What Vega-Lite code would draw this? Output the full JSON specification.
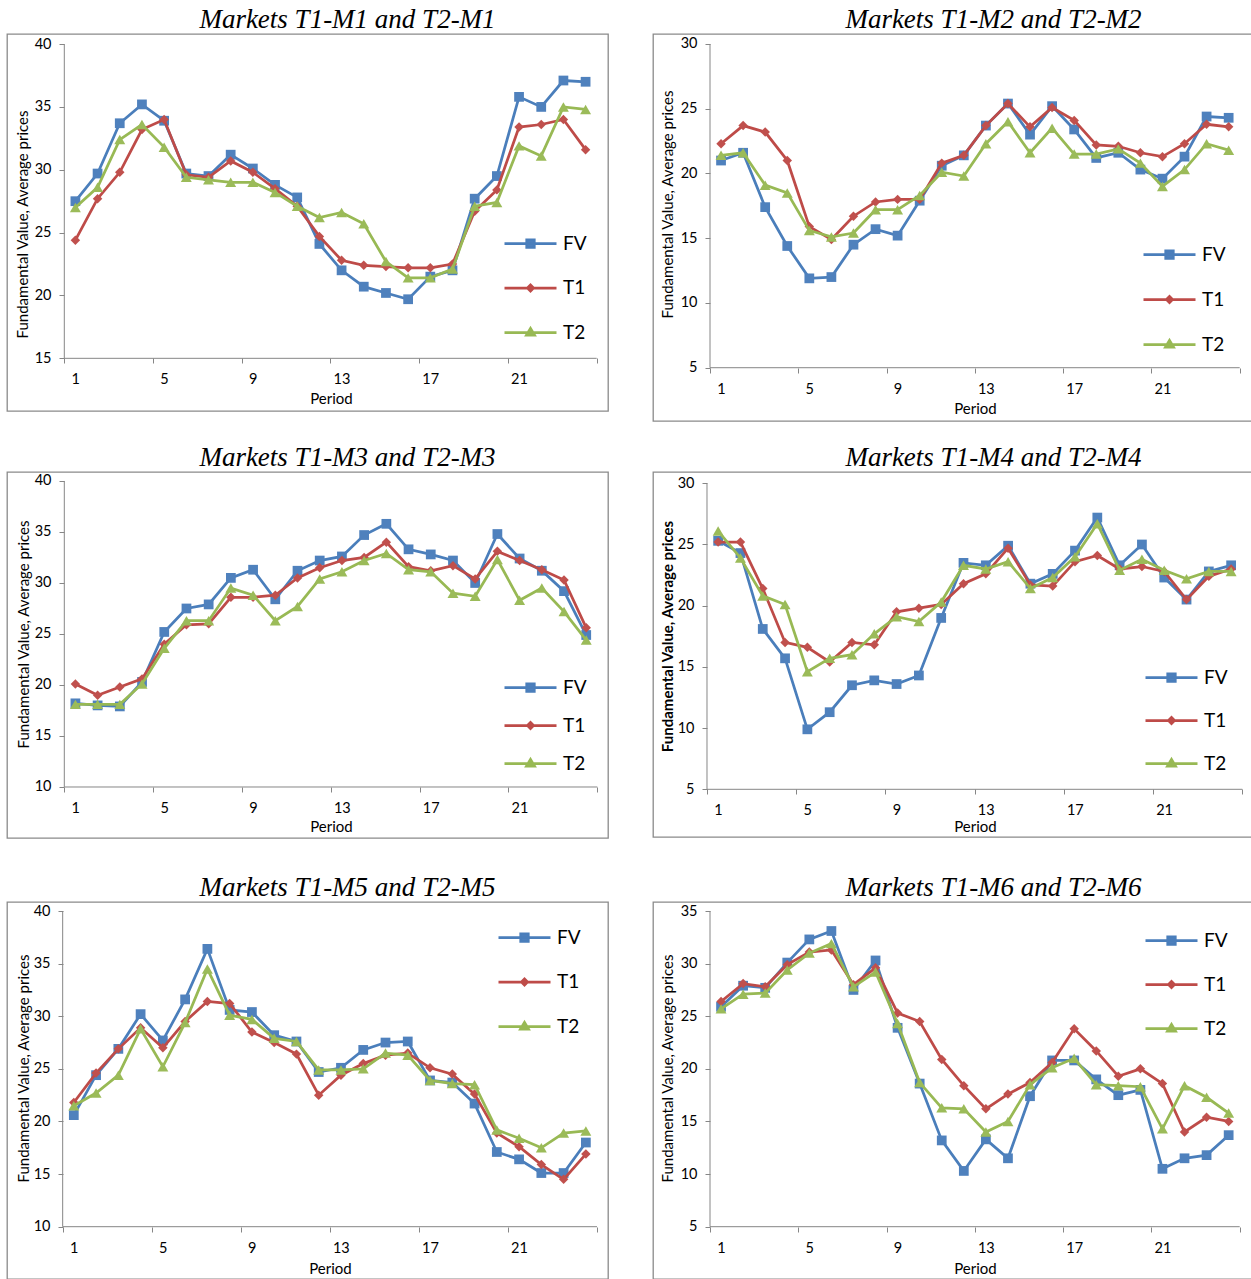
{
"$schema": "https://vega.github.io/schema/vega-lite/v6.json",
"background": "white",
"padding": {"left": 6, "top": 5, "right": 0, "bottom": 0},
"datasets": {"d": [
{"m":"M1","p":1,"FV":27.5,"T1":24.4,"T2":27.0},{"m":"M1","p":2,"FV":29.7,"T1":27.7,"T2":28.6},{"m":"M1","p":3,"FV":33.7,"T1":29.8,"T2":32.4},{"m":"M1","p":4,"FV":35.2,"T1":33.2,"T2":33.6},{"m":"M1","p":5,"FV":33.9,"T1":34.0,"T2":31.8},{"m":"M1","p":6,"FV":29.7,"T1":29.6,"T2":29.4},{"m":"M1","p":7,"FV":29.5,"T1":29.4,"T2":29.2},{"m":"M1","p":8,"FV":31.2,"T1":30.7,"T2":29.0},{"m":"M1","p":9,"FV":30.1,"T1":29.8,"T2":29.0},{"m":"M1","p":10,"FV":28.8,"T1":28.5,"T2":28.2},{"m":"M1","p":11,"FV":27.8,"T1":27.1,"T2":27.1},{"m":"M1","p":12,"FV":24.1,"T1":24.7,"T2":26.2},{"m":"M1","p":13,"FV":22.0,"T1":22.8,"T2":26.6},{"m":"M1","p":14,"FV":20.7,"T1":22.4,"T2":25.7},{"m":"M1","p":15,"FV":20.2,"T1":22.3,"T2":22.7},{"m":"M1","p":16,"FV":19.7,"T1":22.2,"T2":21.4},{"m":"M1","p":17,"FV":21.5,"T1":22.2,"T2":21.4},{"m":"M1","p":18,"FV":22.0,"T1":22.5,"T2":22.1},{"m":"M1","p":19,"FV":27.7,"T1":26.7,"T2":27.1},{"m":"M1","p":20,"FV":29.5,"T1":28.4,"T2":27.4},{"m":"M1","p":21,"FV":35.8,"T1":33.4,"T2":31.9},{"m":"M1","p":22,"FV":35.0,"T1":33.6,"T2":31.1},{"m":"M1","p":23,"FV":37.1,"T1":34.0,"T2":35.0},{"m":"M1","p":24,"FV":37.0,"T1":31.6,"T2":34.8},
{"m":"M2","p":1,"FV":21.0,"T1":22.3,"T2":21.4},{"m":"M2","p":2,"FV":21.6,"T1":23.7,"T2":21.6},{"m":"M2","p":3,"FV":17.4,"T1":23.2,"T2":19.1},{"m":"M2","p":4,"FV":14.4,"T1":21.0,"T2":18.5},{"m":"M2","p":5,"FV":11.9,"T1":15.9,"T2":15.6},{"m":"M2","p":6,"FV":12.0,"T1":14.9,"T2":15.1},{"m":"M2","p":7,"FV":14.5,"T1":16.7,"T2":15.4},{"m":"M2","p":8,"FV":15.7,"T1":17.8,"T2":17.2},{"m":"M2","p":9,"FV":15.2,"T1":18.0,"T2":17.2},{"m":"M2","p":10,"FV":17.9,"T1":18.0,"T2":18.3},{"m":"M2","p":11,"FV":20.6,"T1":20.8,"T2":20.1},{"m":"M2","p":12,"FV":21.4,"T1":21.4,"T2":19.8},{"m":"M2","p":13,"FV":23.7,"T1":23.7,"T2":22.3},{"m":"M2","p":14,"FV":25.4,"T1":25.4,"T2":24.0},{"m":"M2","p":15,"FV":23.0,"T1":23.6,"T2":21.6},{"m":"M2","p":16,"FV":25.2,"T1":25.1,"T2":23.5},{"m":"M2","p":17,"FV":23.4,"T1":24.1,"T2":21.5},{"m":"M2","p":18,"FV":21.2,"T1":22.2,"T2":21.5},{"m":"M2","p":19,"FV":21.6,"T1":22.1,"T2":21.9},{"m":"M2","p":20,"FV":20.3,"T1":21.6,"T2":20.8},{"m":"M2","p":21,"FV":19.6,"T1":21.3,"T2":19.0},{"m":"M2","p":22,"FV":21.3,"T1":22.3,"T2":20.3},{"m":"M2","p":23,"FV":24.4,"T1":23.8,"T2":22.3},{"m":"M2","p":24,"FV":24.3,"T1":23.6,"T2":21.8},
{"m":"M3","p":1,"FV":18.2,"T1":20.1,"T2":18.1},{"m":"M3","p":2,"FV":18.0,"T1":19.0,"T2":18.1},{"m":"M3","p":3,"FV":17.9,"T1":19.8,"T2":18.1},{"m":"M3","p":4,"FV":20.3,"T1":20.6,"T2":20.1},{"m":"M3","p":5,"FV":25.2,"T1":24.0,"T2":23.6},{"m":"M3","p":6,"FV":27.5,"T1":25.9,"T2":26.3},{"m":"M3","p":7,"FV":27.9,"T1":26.0,"T2":26.3},{"m":"M3","p":8,"FV":30.5,"T1":28.6,"T2":29.5},{"m":"M3","p":9,"FV":31.3,"T1":28.6,"T2":28.8},{"m":"M3","p":10,"FV":28.4,"T1":28.8,"T2":26.3},{"m":"M3","p":11,"FV":31.2,"T1":30.5,"T2":27.7},{"m":"M3","p":12,"FV":32.2,"T1":31.5,"T2":30.4},{"m":"M3","p":13,"FV":32.6,"T1":32.2,"T2":31.1},{"m":"M3","p":14,"FV":34.7,"T1":32.5,"T2":32.2},{"m":"M3","p":15,"FV":35.8,"T1":34.0,"T2":32.9},{"m":"M3","p":16,"FV":33.3,"T1":31.6,"T2":31.3},{"m":"M3","p":17,"FV":32.8,"T1":31.2,"T2":31.1},{"m":"M3","p":18,"FV":32.2,"T1":31.7,"T2":29.0},{"m":"M3","p":19,"FV":30.0,"T1":30.4,"T2":28.7},{"m":"M3","p":20,"FV":34.8,"T1":33.1,"T2":32.3},{"m":"M3","p":21,"FV":32.4,"T1":32.2,"T2":28.3},{"m":"M3","p":22,"FV":31.2,"T1":31.3,"T2":29.5},{"m":"M3","p":23,"FV":29.2,"T1":30.3,"T2":27.2},{"m":"M3","p":24,"FV":24.9,"T1":25.6,"T2":24.4},
{"m":"M4","p":1,"FV":25.3,"T1":25.2,"T2":26.1},{"m":"M4","p":2,"FV":24.3,"T1":25.2,"T2":23.9},{"m":"M4","p":3,"FV":18.1,"T1":21.4,"T2":20.8},{"m":"M4","p":4,"FV":15.7,"T1":17.0,"T2":20.1},{"m":"M4","p":5,"FV":9.9,"T1":16.6,"T2":14.6},{"m":"M4","p":6,"FV":11.3,"T1":15.4,"T2":15.7},{"m":"M4","p":7,"FV":13.5,"T1":17.0,"T2":16.0},{"m":"M4","p":8,"FV":13.9,"T1":16.8,"T2":17.7},{"m":"M4","p":9,"FV":13.6,"T1":19.5,"T2":19.1},{"m":"M4","p":10,"FV":14.3,"T1":19.8,"T2":18.7},{"m":"M4","p":11,"FV":19.0,"T1":20.1,"T2":20.3},{"m":"M4","p":12,"FV":23.5,"T1":21.8,"T2":23.3},{"m":"M4","p":13,"FV":23.3,"T1":22.6,"T2":23.0},{"m":"M4","p":14,"FV":24.9,"T1":24.7,"T2":23.6},{"m":"M4","p":15,"FV":21.8,"T1":21.7,"T2":21.4},{"m":"M4","p":16,"FV":22.6,"T1":21.6,"T2":22.3},{"m":"M4","p":17,"FV":24.5,"T1":23.6,"T2":24.0},{"m":"M4","p":18,"FV":27.2,"T1":24.1,"T2":26.7},{"m":"M4","p":19,"FV":23.3,"T1":23.0,"T2":22.9},{"m":"M4","p":20,"FV":25.0,"T1":23.2,"T2":23.8},{"m":"M4","p":21,"FV":22.3,"T1":22.8,"T2":22.9},{"m":"M4","p":22,"FV":20.5,"T1":20.5,"T2":22.2},{"m":"M4","p":23,"FV":22.8,"T1":22.4,"T2":22.8},{"m":"M4","p":24,"FV":23.3,"T1":23.0,"T2":22.8},
{"m":"M5","p":1,"FV":20.6,"T1":21.8,"T2":21.5},{"m":"M5","p":2,"FV":24.4,"T1":24.6,"T2":22.7},{"m":"M5","p":3,"FV":26.9,"T1":26.9,"T2":24.4},{"m":"M5","p":4,"FV":30.2,"T1":28.9,"T2":28.8},{"m":"M5","p":5,"FV":27.7,"T1":27.0,"T2":25.2},{"m":"M5","p":6,"FV":31.6,"T1":29.5,"T2":29.4},{"m":"M5","p":7,"FV":36.4,"T1":31.4,"T2":34.5},{"m":"M5","p":8,"FV":30.6,"T1":31.2,"T2":30.1},{"m":"M5","p":9,"FV":30.4,"T1":28.5,"T2":29.7},{"m":"M5","p":10,"FV":28.2,"T1":27.5,"T2":27.9},{"m":"M5","p":11,"FV":27.6,"T1":26.4,"T2":27.6},{"m":"M5","p":12,"FV":24.7,"T1":22.5,"T2":24.9},{"m":"M5","p":13,"FV":25.1,"T1":24.4,"T2":24.9},{"m":"M5","p":14,"FV":26.8,"T1":25.5,"T2":25.0},{"m":"M5","p":15,"FV":27.5,"T1":26.3,"T2":26.5},{"m":"M5","p":16,"FV":27.6,"T1":26.5,"T2":26.3},{"m":"M5","p":17,"FV":23.9,"T1":25.1,"T2":23.9},{"m":"M5","p":18,"FV":23.7,"T1":24.5,"T2":23.6},{"m":"M5","p":19,"FV":21.7,"T1":22.6,"T2":23.5},{"m":"M5","p":20,"FV":17.1,"T1":18.9,"T2":19.2},{"m":"M5","p":21,"FV":16.4,"T1":17.6,"T2":18.4},{"m":"M5","p":22,"FV":15.1,"T1":15.9,"T2":17.5},{"m":"M5","p":23,"FV":15.1,"T1":14.5,"T2":18.9},{"m":"M5","p":24,"FV":18.0,"T1":16.9,"T2":19.1},
{"m":"M6","p":1,"FV":25.9,"T1":26.4,"T2":25.7},{"m":"M6","p":2,"FV":27.9,"T1":28.1,"T2":27.1},{"m":"M6","p":3,"FV":27.7,"T1":27.8,"T2":27.2},{"m":"M6","p":4,"FV":30.1,"T1":29.9,"T2":29.4},{"m":"M6","p":5,"FV":32.3,"T1":31.1,"T2":31.0},{"m":"M6","p":6,"FV":33.1,"T1":31.3,"T2":31.9},{"m":"M6","p":7,"FV":27.5,"T1":28.0,"T2":27.8},{"m":"M6","p":8,"FV":30.3,"T1":29.6,"T2":29.2},{"m":"M6","p":9,"FV":23.9,"T1":25.3,"T2":24.3},{"m":"M6","p":10,"FV":18.6,"T1":24.5,"T2":18.7},{"m":"M6","p":11,"FV":13.2,"T1":20.9,"T2":16.3},{"m":"M6","p":12,"FV":10.3,"T1":18.4,"T2":16.2},{"m":"M6","p":13,"FV":13.3,"T1":16.2,"T2":14.0},{"m":"M6","p":14,"FV":11.5,"T1":17.6,"T2":15.0},{"m":"M6","p":15,"FV":17.4,"T1":18.7,"T2":18.5},{"m":"M6","p":16,"FV":20.8,"T1":20.6,"T2":20.1},{"m":"M6","p":17,"FV":20.8,"T1":23.8,"T2":21.0},{"m":"M6","p":18,"FV":19.0,"T1":21.7,"T2":18.5},{"m":"M6","p":19,"FV":17.5,"T1":19.3,"T2":18.4},{"m":"M6","p":20,"FV":18.0,"T1":20.0,"T2":18.3},{"m":"M6","p":21,"FV":10.5,"T1":18.6,"T2":14.3},{"m":"M6","p":22,"FV":11.5,"T1":14.0,"T2":18.4},{"m":"M6","p":23,"FV":11.8,"T1":15.4,"T2":17.3},{"m":"M6","p":24,"FV":13.7,"T1":15.0,"T2":15.8}
]},
"spacing": 34,
"resolve": {"scale": {"color": "independent", "fill": "independent", "stroke": "independent", "shape": "independent"}, "legend": {"color": "independent", "fill": "independent", "stroke": "independent", "shape": "independent"}},
"vconcat": [
{"spacing": 21,
 "resolve": {"scale": {"color": "independent", "fill": "independent", "stroke": "independent", "shape": "independent"}, "legend": {"color": "independent", "fill": "independent", "stroke": "independent", "shape": "independent"}},
 "vconcat": [
 {"spacing": 43,
  "resolve": {"scale": {"color": "independent", "fill": "independent", "stroke": "independent", "shape": "independent"}, "legend": {"color": "independent", "fill": "independent", "stroke": "independent", "shape": "independent"}},
  "hconcat": [
  {"width": 601, "height": 377, "title": {"text": "Markets T1-M1 and T2-M1", "offset": 0.1},
   "layer": [
    {"data": {"values": [{"k": 1}]}, "mark": {"type": "rule", "color": "#868686", "strokeWidth": 1}, "encoding": {"x": {"datum": 0.5, "type": "quantitative", "scale": {"domain": [-2.083, 25.01], "nice": false, "zero": false}}, "y": {"datum": 15, "type": "quantitative", "scale": {"domain": [10.81, 40.8], "nice": false, "zero": false}}, "y2": {"datum": 40}}},
    {"data": {"values": [{"k": 1}]}, "mark": {"type": "rule", "color": "#868686", "strokeWidth": 1}, "encoding": {"x": {"datum": 0.5, "type": "quantitative", "scale": {"domain": [-2.083, 25.01], "nice": false, "zero": false}}, "x2": {"datum": 24.5}, "y": {"datum": 15, "type": "quantitative", "scale": {"domain": [10.81, 40.8], "nice": false, "zero": false}}}},
    {"data": {"name": "d"},
     "transform": [{"filter": "datum.m == 'M1'"}, {"fold": ["FV", "T1", "T2"], "as": ["s", "v"]}],
     "encoding": {
      "x": {"field": "p", "type": "quantitative", "scale": {"domain": [-2.083, 25.01], "nice": false, "zero": false},
            "axis": {"values": [0.5, 4.5, 8.5, 12.5, 16.5, 20.5, 24.5], "labelExpr": "datum.value > 24 ? '' : format(datum.value + 0.5, 'd')", "labelOffset": 11, "offset": -53, "labelPadding": 9, "title": "Period", "titleX": 324, "titleY": 40, "titleBaseline": "middle", "titleAlign": "center"}},
      "y": {"field": "v", "type": "quantitative", "scale": {"domain": [10.81, 40.8], "nice": false, "zero": false},
            "axis": {"values": [15, 20, 25, 30, 35, 40], "offset": -57, "labelPadding": 8, "title": "Fundamental Value, Average prices", "titleX": -42, "titleY": 190, "titleAngle": -90, "titleBaseline": "middle", "titleAlign": "center"}}
     },
     "layer": [
      {"transform": [{"filter": "datum.s == 'FV'"}], "mark": {"type": "line", "color": "#4A7EBB", "strokeWidth": 2.75, "point": {"shape": "square", "filled": true, "size": 95, "color": "#4F81BD", "opacity": 1}}},
      {"transform": [{"filter": "datum.s == 'T1'"}], "mark": {"type": "line", "color": "#BE4B48", "strokeWidth": 2.75, "point": {"shape": "diamond", "filled": true, "size": 90, "color": "#C0504D", "opacity": 1}}},
      {"transform": [{"filter": "datum.s == 'T2'"}], "mark": {"type": "line", "color": "#98B954", "strokeWidth": 2.75, "point": {"shape": "triangle-up", "filled": true, "size": 120, "color": "#9BBB59", "opacity": 1}}},
      {"transform": [{"filter": "false"}], "mark": {"type": "point", "filled": true, "opacity": 1, "strokeWidth": 2.75},
       "encoding": {
        "fill": {"field": "s", "type": "nominal", "scale": {"domain": ["FV", "T1", "T2"], "range": ["#4F81BD", "#C0504D", "#9BBB59"]}, "legend": {"title": null, "orient": "none", "legendX": 528, "legendY": 198, "rowPadding": 22.5}},
        "stroke": {"field": "s", "type": "nominal", "scale": {"domain": ["FV", "T1", "T2"], "range": ["#4A7EBB", "#BE4B48", "#98B954"]}, "legend": {"title": null, "orient": "none", "legendX": 528, "legendY": 198, "rowPadding": 22.5}},
        "shape": {"field": "s", "type": "nominal", "scale": {"domain": ["FV", "T1", "T2"], "range": ["M-4.2,0H1M-1.975,-0.375H-1.225V0.375H-1.975Z", "M-4.2,0H1M-1.9,0L-1.6,-0.3L-1.3,0L-1.6,0.3Z", "M-4.2,0H1M-1.6,-0.4L-1.2,0.27H-2Z"]}, "legend": {"title": null, "orient": "none", "legendX": 528, "legendY": 198, "rowPadding": 22.5}}
       }}
     ]}
   ]},
  {"width": 601, "height": 387, "title": {"text": "Markets T1-M2 and T2-M2", "offset": 0.1},
   "layer": [
    {"data": {"values": [{"k": 1}]}, "mark": {"type": "rule", "color": "#868686", "strokeWidth": 1}, "encoding": {"x": {"datum": 0.5, "type": "quantitative", "scale": {"domain": [-2.083, 25.148], "nice": false, "zero": false}}, "y": {"datum": 5, "type": "quantitative", "scale": {"domain": [0.884, 30.772], "nice": false, "zero": false}}, "y2": {"datum": 30}}},
    {"data": {"values": [{"k": 1}]}, "mark": {"type": "rule", "color": "#868686", "strokeWidth": 1}, "encoding": {"x": {"datum": 0.5, "type": "quantitative", "scale": {"domain": [-2.083, 25.148], "nice": false, "zero": false}}, "x2": {"datum": 24.5}, "y": {"datum": 5, "type": "quantitative", "scale": {"domain": [0.884, 30.772], "nice": false, "zero": false}}}},
    {"data": {"name": "d"},
     "transform": [{"filter": "datum.m == 'M2'"}, {"fold": ["FV", "T1", "T2"], "as": ["s", "v"]}],
     "encoding": {
      "x": {"field": "p", "type": "quantitative", "scale": {"domain": [-2.083, 25.148], "nice": false, "zero": false},
            "axis": {"values": [0.5, 4.5, 8.5, 12.5, 16.5, 20.5, 24.5], "labelExpr": "datum.value > 24 ? '' : format(datum.value + 0.5, 'd')", "labelOffset": 11, "offset": -53, "labelPadding": 9, "title": "Period", "titleX": 322, "titleY": 40, "titleBaseline": "middle", "titleAlign": "center"}},
      "y": {"field": "v", "type": "quantitative", "scale": {"domain": [0.884, 30.772], "nice": false, "zero": false},
            "axis": {"values": [5, 10, 15, 20, 25, 30], "offset": -57, "labelPadding": 8, "title": "Fundamental Value, Average prices", "titleX": -43, "titleY": 170, "titleAngle": -90, "titleBaseline": "middle", "titleAlign": "center"}}
     },
     "layer": [
      {"transform": [{"filter": "datum.s == 'FV'"}], "mark": {"type": "line", "color": "#4A7EBB", "strokeWidth": 2.75, "point": {"shape": "square", "filled": true, "size": 95, "color": "#4F81BD", "opacity": 1}}},
      {"transform": [{"filter": "datum.s == 'T1'"}], "mark": {"type": "line", "color": "#BE4B48", "strokeWidth": 2.75, "point": {"shape": "diamond", "filled": true, "size": 90, "color": "#C0504D", "opacity": 1}}},
      {"transform": [{"filter": "datum.s == 'T2'"}], "mark": {"type": "line", "color": "#98B954", "strokeWidth": 2.75, "point": {"shape": "triangle-up", "filled": true, "size": 120, "color": "#9BBB59", "opacity": 1}}},
      {"transform": [{"filter": "false"}], "mark": {"type": "point", "filled": true, "opacity": 1, "strokeWidth": 2.75},
       "encoding": {
        "fill": {"field": "s", "type": "nominal", "scale": {"domain": ["FV", "T1", "T2"], "range": ["#4F81BD", "#C0504D", "#9BBB59"]}, "legend": {"title": null, "orient": "none", "legendX": 521, "legendY": 209, "rowPadding": 23}},
        "stroke": {"field": "s", "type": "nominal", "scale": {"domain": ["FV", "T1", "T2"], "range": ["#4A7EBB", "#BE4B48", "#98B954"]}, "legend": {"title": null, "orient": "none", "legendX": 521, "legendY": 209, "rowPadding": 23}},
        "shape": {"field": "s", "type": "nominal", "scale": {"domain": ["FV", "T1", "T2"], "range": ["M-4.2,0H1M-1.975,-0.375H-1.225V0.375H-1.975Z", "M-4.2,0H1M-1.9,0L-1.6,-0.3L-1.3,0L-1.6,0.3Z", "M-4.2,0H1M-1.6,-0.4L-1.2,0.27H-2Z"]}, "legend": {"title": null, "orient": "none", "legendX": 521, "legendY": 209, "rowPadding": 23}}
       }}
     ]}
   ]}
  ]},
 {"spacing": 43,
  "resolve": {"scale": {"color": "independent", "fill": "independent", "stroke": "independent", "shape": "independent"}, "legend": {"color": "independent", "fill": "independent", "stroke": "independent", "shape": "independent"}},
  "hconcat": [
  {"width": 601, "height": 366, "title": {"text": "Markets T1-M3 and T2-M3", "offset": 0.1},
   "layer": [
    {"data": {"values": [{"k": 1}]}, "mark": {"type": "rule", "color": "#868686", "strokeWidth": 1}, "encoding": {"x": {"datum": 0.5, "type": "quantitative", "scale": {"domain": [-2.08, 24.98], "nice": false, "zero": false}}, "y": {"datum": 10, "type": "quantitative", "scale": {"domain": [5.0, 40.88], "nice": false, "zero": false}}, "y2": {"datum": 40}}},
    {"data": {"values": [{"k": 1}]}, "mark": {"type": "rule", "color": "#868686", "strokeWidth": 1}, "encoding": {"x": {"datum": 0.5, "type": "quantitative", "scale": {"domain": [-2.08, 24.98], "nice": false, "zero": false}}, "x2": {"datum": 24.5}, "y": {"datum": 10, "type": "quantitative", "scale": {"domain": [5.0, 40.88], "nice": false, "zero": false}}}},
    {"data": {"name": "d"},
     "transform": [{"filter": "datum.m == 'M3'"}, {"fold": ["FV", "T1", "T2"], "as": ["s", "v"]}],
     "encoding": {
      "x": {"field": "p", "type": "quantitative", "scale": {"domain": [-2.08, 24.98], "nice": false, "zero": false},
            "axis": {"values": [0.5, 4.5, 8.5, 12.5, 16.5, 20.5, 24.5], "labelExpr": "datum.value > 24 ? '' : format(datum.value + 0.5, 'd')", "labelOffset": 11, "offset": -51, "labelPadding": 9, "title": "Period", "titleX": 324, "titleY": 39, "titleBaseline": "middle", "titleAlign": "center"}},
      "y": {"field": "v", "type": "quantitative", "scale": {"domain": [5.0, 40.88], "nice": false, "zero": false},
            "axis": {"values": [10, 15, 20, 25, 30, 35, 40], "offset": -57, "labelPadding": 8, "title": "Fundamental Value, Average prices", "titleX": -41, "titleY": 162, "titleAngle": -90, "titleBaseline": "middle", "titleAlign": "center"}}
     },
     "layer": [
      {"transform": [{"filter": "datum.s == 'FV'"}], "mark": {"type": "line", "color": "#4A7EBB", "strokeWidth": 2.75, "point": {"shape": "square", "filled": true, "size": 95, "color": "#4F81BD", "opacity": 1}}},
      {"transform": [{"filter": "datum.s == 'T1'"}], "mark": {"type": "line", "color": "#BE4B48", "strokeWidth": 2.75, "point": {"shape": "diamond", "filled": true, "size": 90, "color": "#C0504D", "opacity": 1}}},
      {"transform": [{"filter": "datum.s == 'T2'"}], "mark": {"type": "line", "color": "#98B954", "strokeWidth": 2.75, "point": {"shape": "triangle-up", "filled": true, "size": 120, "color": "#9BBB59", "opacity": 1}}},
      {"transform": [{"filter": "false"}], "mark": {"type": "point", "filled": true, "opacity": 1, "strokeWidth": 2.75},
       "encoding": {
        "fill": {"field": "s", "type": "nominal", "scale": {"domain": ["FV", "T1", "T2"], "range": ["#4F81BD", "#C0504D", "#9BBB59"]}, "legend": {"title": null, "orient": "none", "legendX": 528, "legendY": 204, "rowPadding": 16}},
        "stroke": {"field": "s", "type": "nominal", "scale": {"domain": ["FV", "T1", "T2"], "range": ["#4A7EBB", "#BE4B48", "#98B954"]}, "legend": {"title": null, "orient": "none", "legendX": 528, "legendY": 204, "rowPadding": 16}},
        "shape": {"field": "s", "type": "nominal", "scale": {"domain": ["FV", "T1", "T2"], "range": ["M-4.2,0H1M-1.975,-0.375H-1.225V0.375H-1.975Z", "M-4.2,0H1M-1.9,0L-1.6,-0.3L-1.3,0L-1.6,0.3Z", "M-4.2,0H1M-1.6,-0.4L-1.2,0.27H-2Z"]}, "legend": {"title": null, "orient": "none", "legendX": 528, "legendY": 204, "rowPadding": 16}}
       }}
     ]}
   ]},
  {"width": 601, "height": 365, "title": {"text": "Markets T1-M4 and T2-M4", "offset": 0.1},
   "layer": [
    {"data": {"values": [{"k": 1}]}, "mark": {"type": "rule", "color": "#868686", "strokeWidth": 1}, "encoding": {"x": {"datum": 0.5, "type": "quantitative", "scale": {"domain": [-1.921, 25.025], "nice": false, "zero": false}}, "y": {"datum": 5, "type": "quantitative", "scale": {"domain": [1.103, 30.923], "nice": false, "zero": false}}, "y2": {"datum": 30}}},
    {"data": {"values": [{"k": 1}]}, "mark": {"type": "rule", "color": "#868686", "strokeWidth": 1}, "encoding": {"x": {"datum": 0.5, "type": "quantitative", "scale": {"domain": [-1.921, 25.025], "nice": false, "zero": false}}, "x2": {"datum": 24.5}, "y": {"datum": 5, "type": "quantitative", "scale": {"domain": [1.103, 30.923], "nice": false, "zero": false}}}},
    {"data": {"name": "d"},
     "transform": [{"filter": "datum.m == 'M4'"}, {"fold": ["FV", "T1", "T2"], "as": ["s", "v"]}],
     "encoding": {
      "x": {"field": "p", "type": "quantitative", "scale": {"domain": [-1.921, 25.025], "nice": false, "zero": false},
            "axis": {"values": [0.5, 4.5, 8.5, 12.5, 16.5, 20.5, 24.5], "labelExpr": "datum.value > 24 ? '' : format(datum.value + 0.5, 'd')", "labelOffset": 11, "offset": -48, "labelPadding": 9, "title": "Period", "titleX": 322, "titleY": 37, "titleBaseline": "middle", "titleAlign": "center"}},
      "y": {"field": "v", "type": "quantitative", "scale": {"domain": [1.103, 30.923], "nice": false, "zero": false},
            "axis": {"values": [5, 10, 15, 20, 25, 30], "offset": -54, "labelPadding": 8, "title": "Fundamental Value, Average prices", "titleFontWeight": "bold", "titleX": -40, "titleY": 164, "titleAngle": -90, "titleBaseline": "middle", "titleAlign": "center"}}
     },
     "layer": [
      {"transform": [{"filter": "datum.s == 'FV'"}], "mark": {"type": "line", "color": "#4A7EBB", "strokeWidth": 2.75, "point": {"shape": "square", "filled": true, "size": 95, "color": "#4F81BD", "opacity": 1}}},
      {"transform": [{"filter": "datum.s == 'T1'"}], "mark": {"type": "line", "color": "#BE4B48", "strokeWidth": 2.75, "point": {"shape": "diamond", "filled": true, "size": 90, "color": "#C0504D", "opacity": 1}}},
      {"transform": [{"filter": "datum.s == 'T2'"}], "mark": {"type": "line", "color": "#98B954", "strokeWidth": 2.75, "point": {"shape": "triangle-up", "filled": true, "size": 120, "color": "#9BBB59", "opacity": 1}}},
      {"transform": [{"filter": "false"}], "mark": {"type": "point", "filled": true, "opacity": 1, "strokeWidth": 2.75},
       "encoding": {
        "fill": {"field": "s", "type": "nominal", "scale": {"domain": ["FV", "T1", "T2"], "range": ["#4F81BD", "#C0504D", "#9BBB59"]}, "legend": {"title": null, "orient": "none", "legendX": 523, "legendY": 194, "rowPadding": 21}},
        "stroke": {"field": "s", "type": "nominal", "scale": {"domain": ["FV", "T1", "T2"], "range": ["#4A7EBB", "#BE4B48", "#98B954"]}, "legend": {"title": null, "orient": "none", "legendX": 523, "legendY": 194, "rowPadding": 21}},
        "shape": {"field": "s", "type": "nominal", "scale": {"domain": ["FV", "T1", "T2"], "range": ["M-4.2,0H1M-1.975,-0.375H-1.225V0.375H-1.975Z", "M-4.2,0H1M-1.9,0L-1.6,-0.3L-1.3,0L-1.6,0.3Z", "M-4.2,0H1M-1.6,-0.4L-1.2,0.27H-2Z"]}, "legend": {"title": null, "orient": "none", "legendX": 523, "legendY": 194, "rowPadding": 21}}
       }}
     ]}
   ]}
  ]}
 ]},
 {"spacing": 43,
  "resolve": {"scale": {"color": "independent", "fill": "independent", "stroke": "independent", "shape": "independent"}, "legend": {"color": "independent", "fill": "independent", "stroke": "independent", "shape": "independent"}},
  "hconcat": [
  {"width": 601, "height": 377, "title": {"text": "Markets T1-M5 and T2-M5", "offset": 0.1},
   "layer": [
    {"data": {"values": [{"k": 1}]}, "mark": {"type": "rule", "color": "#868686", "strokeWidth": 1}, "encoding": {"x": {"datum": 0.5, "type": "quantitative", "scale": {"domain": [-2.001, 24.994], "nice": false, "zero": false}}, "y": {"datum": 10, "type": "quantitative", "scale": {"domain": [5.03, 40.856], "nice": false, "zero": false}}, "y2": {"datum": 40}}},
    {"data": {"values": [{"k": 1}]}, "mark": {"type": "rule", "color": "#868686", "strokeWidth": 1}, "encoding": {"x": {"datum": 0.5, "type": "quantitative", "scale": {"domain": [-2.001, 24.994], "nice": false, "zero": false}}, "x2": {"datum": 24.5}, "y": {"datum": 10, "type": "quantitative", "scale": {"domain": [5.03, 40.856], "nice": false, "zero": false}}}},
    {"data": {"name": "d"},
     "transform": [{"filter": "datum.m == 'M5'"}, {"fold": ["FV", "T1", "T2"], "as": ["s", "v"]}],
     "encoding": {
      "x": {"field": "p", "type": "quantitative", "scale": {"domain": [-2.001, 24.994], "nice": false, "zero": false},
            "axis": {"values": [0.5, 4.5, 8.5, 12.5, 16.5, 20.5, 24.5], "labelExpr": "datum.value > 24 ? '' : format(datum.value + 0.5, 'd')", "labelOffset": 11, "offset": -52, "labelPadding": 9, "title": "Period", "titleX": 323, "titleY": 41, "titleBaseline": "middle", "titleAlign": "center"}},
      "y": {"field": "v", "type": "quantitative", "scale": {"domain": [5.03, 40.856], "nice": false, "zero": false},
            "axis": {"values": [10, 15, 20, 25, 30, 35, 40], "offset": -56, "labelPadding": 8, "title": "Fundamental Value, Average prices", "titleX": -40, "titleY": 166, "titleAngle": -90, "titleBaseline": "middle", "titleAlign": "center"}}
     },
     "layer": [
      {"transform": [{"filter": "datum.s == 'FV'"}], "mark": {"type": "line", "color": "#4A7EBB", "strokeWidth": 2.75, "point": {"shape": "square", "filled": true, "size": 95, "color": "#4F81BD", "opacity": 1}}},
      {"transform": [{"filter": "datum.s == 'T1'"}], "mark": {"type": "line", "color": "#BE4B48", "strokeWidth": 2.75, "point": {"shape": "diamond", "filled": true, "size": 90, "color": "#C0504D", "opacity": 1}}},
      {"transform": [{"filter": "datum.s == 'T2'"}], "mark": {"type": "line", "color": "#98B954", "strokeWidth": 2.75, "point": {"shape": "triangle-up", "filled": true, "size": 120, "color": "#9BBB59", "opacity": 1}}},
      {"transform": [{"filter": "false"}], "mark": {"type": "point", "filled": true, "opacity": 1, "strokeWidth": 2.75},
       "encoding": {
        "fill": {"field": "s", "type": "nominal", "scale": {"domain": ["FV", "T1", "T2"], "range": ["#4F81BD", "#C0504D", "#9BBB59"]}, "legend": {"title": null, "orient": "none", "legendX": 522, "legendY": 24, "rowPadding": 22.5}},
        "stroke": {"field": "s", "type": "nominal", "scale": {"domain": ["FV", "T1", "T2"], "range": ["#4A7EBB", "#BE4B48", "#98B954"]}, "legend": {"title": null, "orient": "none", "legendX": 522, "legendY": 24, "rowPadding": 22.5}},
        "shape": {"field": "s", "type": "nominal", "scale": {"domain": ["FV", "T1", "T2"], "range": ["M-4.2,0H1M-1.975,-0.375H-1.225V0.375H-1.975Z", "M-4.2,0H1M-1.9,0L-1.6,-0.3L-1.3,0L-1.6,0.3Z", "M-4.2,0H1M-1.6,-0.4L-1.2,0.27H-2Z"]}, "legend": {"title": null, "orient": "none", "legendX": 522, "legendY": 24, "rowPadding": 22.5}}
       }}
     ]}
   ]},
  {"width": 601, "height": 377, "title": {"text": "Markets T1-M6 and T2-M6", "offset": 0.1},
   "layer": [
    {"data": {"values": [{"k": 1}]}, "mark": {"type": "rule", "color": "#868686", "strokeWidth": 1}, "encoding": {"x": {"datum": 0.5, "type": "quantitative", "scale": {"domain": [-2.083, 25.148], "nice": false, "zero": false}}, "y": {"datum": 5, "type": "quantitative", "scale": {"domain": [0.03, 35.856], "nice": false, "zero": false}}, "y2": {"datum": 35}}},
    {"data": {"values": [{"k": 1}]}, "mark": {"type": "rule", "color": "#868686", "strokeWidth": 1}, "encoding": {"x": {"datum": 0.5, "type": "quantitative", "scale": {"domain": [-2.083, 25.148], "nice": false, "zero": false}}, "x2": {"datum": 24.5}, "y": {"datum": 5, "type": "quantitative", "scale": {"domain": [0.03, 35.856], "nice": false, "zero": false}}}},
    {"data": {"name": "d"},
     "transform": [{"filter": "datum.m == 'M6'"}, {"fold": ["FV", "T1", "T2"], "as": ["s", "v"]}],
     "encoding": {
      "x": {"field": "p", "type": "quantitative", "scale": {"domain": [-2.083, 25.148], "nice": false, "zero": false},
            "axis": {"values": [0.5, 4.5, 8.5, 12.5, 16.5, 20.5, 24.5], "labelExpr": "datum.value > 24 ? '' : format(datum.value + 0.5, 'd')", "labelOffset": 11, "offset": -52, "labelPadding": 9, "title": "Period", "titleX": 322, "titleY": 41, "titleBaseline": "middle", "titleAlign": "center"}},
      "y": {"field": "v", "type": "quantitative", "scale": {"domain": [0.03, 35.856], "nice": false, "zero": false},
            "axis": {"values": [5, 10, 15, 20, 25, 30, 35], "offset": -57, "labelPadding": 8, "title": "Fundamental Value, Average prices", "titleX": -43, "titleY": 166, "titleAngle": -90, "titleBaseline": "middle", "titleAlign": "center"}}
     },
     "layer": [
      {"transform": [{"filter": "datum.s == 'FV'"}], "mark": {"type": "line", "color": "#4A7EBB", "strokeWidth": 2.75, "point": {"shape": "square", "filled": true, "size": 95, "color": "#4F81BD", "opacity": 1}}},
      {"transform": [{"filter": "datum.s == 'T1'"}], "mark": {"type": "line", "color": "#BE4B48", "strokeWidth": 2.75, "point": {"shape": "diamond", "filled": true, "size": 90, "color": "#C0504D", "opacity": 1}}},
      {"transform": [{"filter": "datum.s == 'T2'"}], "mark": {"type": "line", "color": "#98B954", "strokeWidth": 2.75, "point": {"shape": "triangle-up", "filled": true, "size": 120, "color": "#9BBB59", "opacity": 1}}},
      {"transform": [{"filter": "false"}], "mark": {"type": "point", "filled": true, "opacity": 1, "strokeWidth": 2.75},
       "encoding": {
        "fill": {"field": "s", "type": "nominal", "scale": {"domain": ["FV", "T1", "T2"], "range": ["#4F81BD", "#C0504D", "#9BBB59"]}, "legend": {"title": null, "orient": "none", "legendX": 523, "legendY": 27, "rowPadding": 22}},
        "stroke": {"field": "s", "type": "nominal", "scale": {"domain": ["FV", "T1", "T2"], "range": ["#4A7EBB", "#BE4B48", "#98B954"]}, "legend": {"title": null, "orient": "none", "legendX": 523, "legendY": 27, "rowPadding": 22}},
        "shape": {"field": "s", "type": "nominal", "scale": {"domain": ["FV", "T1", "T2"], "range": ["M-4.2,0H1M-1.975,-0.375H-1.225V0.375H-1.975Z", "M-4.2,0H1M-1.9,0L-1.6,-0.3L-1.3,0L-1.6,0.3Z", "M-4.2,0H1M-1.6,-0.4L-1.2,0.27H-2Z"]}, "legend": {"title": null, "orient": "none", "legendX": 523, "legendY": 27, "rowPadding": 22}}
       }}
     ]}
   ]}
  ]}
],
"config": {
 "view": {"stroke": "#8a8a8a", "strokeWidth": 1.3},
 "axis": {"labelFont": "Lato", "labelFontSize": 14.5, "labelColor": "#000000", "titleFont": "Lato", "titleFontSize": 15, "titleFontWeight": "normal", "titleColor": "#000000", "tickColor": "#868686", "tickSize": 5, "grid": false, "domain": false, "labelFlush": false, "labelOverlap": false, "labelBound": false},
 "title": {"font": "Liberation Serif", "fontStyle": "italic", "fontWeight": "normal", "fontSize": 27, "color": "#000000", "dx": 40},
 "legend": {"labelFont": "Lato", "labelFontSize": 19, "labelColor": "#000000", "symbolSize": 400, "symbolStrokeWidth": 2.75, "labelOffset": 5, "padding": 0}
}
}
